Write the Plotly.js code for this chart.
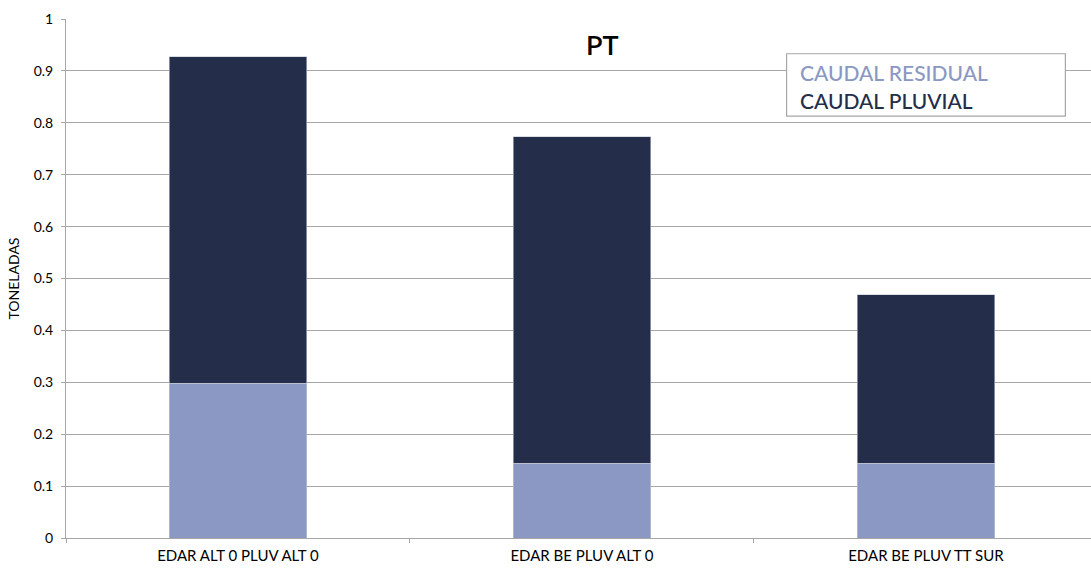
<!DOCTYPE html>
<html>
<head>
<meta charset="utf-8">
<script src="https://cdn.plot.ly/plotly-3.0.1.min.js"></script>
<style>html,body{margin:0;padding:0;background:#fff;}#chart{width:1091px;height:568px;}</style>
</head>
<body>
<div id="chart"></div>
<script>
var categories = ["EDAR ALT 0 PLUV ALT 0", "EDAR BE PLUV ALT 0", "EDAR BE PLUV TT SUR"];
var residual = [0.298, 0.144, 0.144];
var pluvial = [0.629, 0.629, 0.325];
var yTickVals = [0, 0.1, 0.2, 0.3, 0.4, 0.5, 0.6, 0.7, 0.8, 0.9, 1];
var yTickText = ["0", "0.1", "0.2", "0.3", "0.4", "0.5", "0.6", "0.7", "0.8", "0.9", "1"];
var seriesNames = ["CAUDAL RESIDUAL", "CAUDAL PLUVIAL"];
var colors = ["#8a98c3", "#242d49"];

var font = "Lato, 'Open Sans', sans-serif";

var traces = [
  {type: "bar", x: categories, y: residual, name: seriesNames[0],
   marker: {color: colors[0], line: {color: "#c4c8d4", width: 0.6}}, width: 0.4},
  {type: "bar", x: categories, y: pluvial, name: seriesNames[1],
   marker: {color: colors[1], line: {color: "#c4c8d4", width: 0.6}}, width: 0.4}
];

var layout = {
  width: 1091, height: 568,
  margin: {l: 66, r: 0, t: 19, b: 30},
  barmode: "stack",
  showlegend: false,
  paper_bgcolor: "#fff", plot_bgcolor: "#fff",
  font: {family: font, color: "#000", size: 14},
  title: {text: "PT", x: 0.552, xanchor: "center", y: 0.92, yanchor: "middle",
          font: {family: font, size: 27, color: "#000", weight: 600}},
  xaxis: {
    type: "category",
    showline: true, linecolor: "#a6a6a6", linewidth: 1,
    ticks: "outside", tickson: "boundaries", ticklen: 4, tickcolor: "#a6a6a6",
    showgrid: false,
    ticklabelstandoff: 4,
    tickfont: {family: font, size: 15, color: "#000"},
    range: [-0.5, 2.48]
  },
  yaxis: {
    range: [0, 1], tickvals: yTickVals, ticktext: yTickText,
    showline: true, linecolor: "#a6a6a6", linewidth: 1,
    ticks: "outside", ticklen: 4, tickcolor: "#a6a6a6",
    showgrid: true, gridcolor: "#a6a6a6", gridwidth: 1,
    zeroline: false,
    ticklabelstandoff: 5,
    tickfont: {family: font, size: 14, color: "#000"},
    title: {text: "TONELADAS", font: {family: font, size: 14, color: "#000"}, standoff: 10}
  },
  shapes: [
    {type: "rect", xref: "paper", yref: "paper", x0: 0.703, x1: 0.975, y0: 0.813, y1: 0.933,
     line: {color: "#a6a6a6", width: 1.2}, fillcolor: "#fff", layer: "above"}
  ],
  annotations: [
    {xref: "paper", yref: "paper", x: 0.714, y: 0.896, xanchor: "left", yanchor: "middle",
     text: seriesNames[0], showarrow: false, font: {family: font, size: 21, color: colors[0], weight: 500}},
    {xref: "paper", yref: "paper", x: 0.714, y: 0.843, xanchor: "left", yanchor: "middle",
     text: seriesNames[1], showarrow: false, font: {family: font, size: 21, color: colors[1], weight: 500}}
  ]
};

Plotly.newPlot("chart", traces, layout, {displayModeBar: false, staticPlot: true});
</script>
</body>
</html>
